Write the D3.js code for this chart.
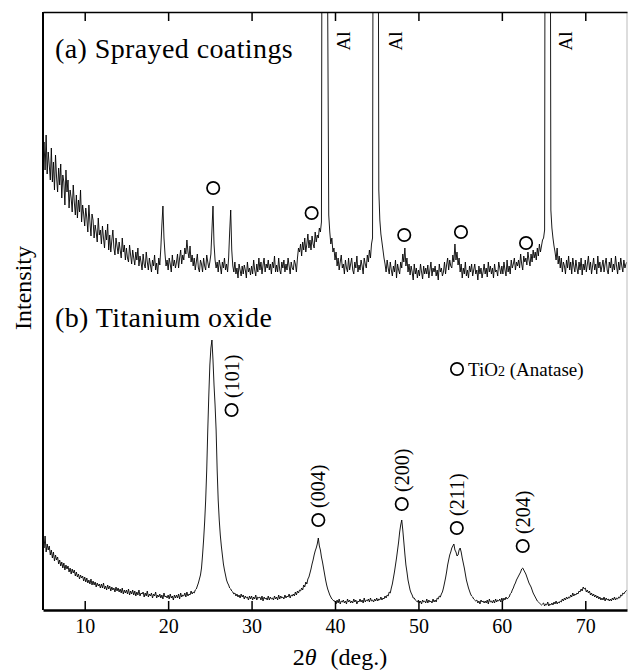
<!DOCTYPE html>
<html>
<head>
<meta charset="utf-8">
<script src="https://cdn.jsdelivr.net/npm/d3@7"></script>
<style>
  body { margin: 0; background: #fff; }
  text { font-family: "Liberation Serif", "Times New Roman", serif; fill: #000; }
</style>
</head>
<body>
<svg id="chart" width="628" height="672"></svg>
<script>
// scan grid of the diffractometer: 5 to 75 deg, 0.125 deg step
const scanStart = 5, scanStep = 0.125;

// (a) sprayed coatings, counts (one row per degree)
const coatingCounts = [
  452, 468, 440, 475, 436, 458, 445, 430,
  462, 428, 448, 420, 455, 433, 418, 442,
  425, 446, 412, 435, 428, 405, 440, 418,
  430, 402, 420, 412, 398, 425, 408, 395,
  415, 392, 410, 398, 420, 388, 405, 396,
  384, 402, 392, 378, 405, 388, 374, 396,
  390, 372, 385, 378, 368, 392, 375, 380,
  366, 384, 372, 362, 380, 370, 386, 360,
  375, 358, 370, 380, 362, 355, 372, 364,
  356, 368, 360, 352, 372, 358, 365, 350,
  362, 352, 348, 365, 355, 346, 360, 352,
  345, 358, 350, 362, 344, 354, 348, 340,
  356, 346, 342, 358, 348, 340, 352, 345,
  338, 350, 344, 355, 340, 347, 336, 352,
  345, 362, 385, 404, 372, 356, 344, 350,
  340, 352, 346, 338, 355, 344, 350, 342,
  348, 356, 342, 352, 360, 346, 355, 350,
  362, 356, 370, 358, 352, 364, 348, 355,
  344, 352, 340, 348, 356, 342, 338, 350,
  346, 338, 352, 344, 340, 355, 348, 342,
  348, 356, 380, 404, 366, 350, 342, 348,
  338, 350, 344, 336, 348, 342, 352, 340,
  346, 338, 352, 378, 400, 360, 344, 338,
  348, 336, 342, 332, 346, 340, 334, 344,
  336, 345, 340, 332, 348, 338, 342, 335,
  344, 336, 350, 340, 334, 346, 338, 352,
  340, 348, 336, 345, 352, 338, 346, 342,
  350, 340, 346, 336, 348, 342, 354, 338,
  345, 338, 352, 340, 336, 348, 342, 350,
  338, 346, 340, 352, 344, 336, 348, 342,
  340, 350, 346, 338, 352, 362, 358, 366,
  354, 368, 360, 372, 358, 366, 376, 362,
  370, 360, 374, 366, 362, 378, 368, 375,
  372, 382, 378, 388, 1000, 2500, 3000, 2500,
  1200, 600, 395, 378, 366, 372, 358, 362,
  350, 358, 344, 352, 340, 348, 355, 342,
  346, 336, 350, 342, 338, 352, 340, 346,
  352, 340, 336, 348, 342, 354, 338, 345,
  340, 350, 344, 336, 352, 346, 342, 355,
  348, 360, 352, 366, 372, 1000, 2500, 3000,
  2500, 1000, 420, 390, 376, 368, 360, 352,
  346, 338, 350, 342, 336, 348, 340, 334,
  344, 338, 350, 332, 346, 340, 336, 348,
  342, 356, 348, 362, 344, 352, 338, 346,
  335, 344, 338, 330, 346, 336, 342, 332,
  340, 334, 346, 338, 331, 344, 336, 342,
  336, 345, 332, 340, 348, 334, 342, 338,
  344, 334, 340, 330, 346, 338, 342, 334,
  338, 348, 336, 345, 352, 340, 350, 344,
  342, 355, 348, 366, 350, 358, 345, 352,
  338, 346, 332, 342, 336, 348, 334, 340,
  332, 344, 338, 346, 334, 340, 346, 336,
  340, 330, 344, 336, 342, 332, 338, 346,
  336, 342, 333, 348, 338, 344, 336, 342,
  332, 346, 338, 340, 334, 348, 342, 336,
  344, 336, 348, 340, 334, 350, 338, 344,
  336, 350, 342, 346, 352, 340, 348, 344,
  350, 342, 356, 346, 340, 354, 348, 352,
  345, 358, 350, 344, 356, 348, 360, 352,
  358, 350, 362, 354, 366, 358, 364, 370,
  372, 380, 1200, 2500, 3000, 2500, 1000, 400,
  382, 372, 364, 358, 350, 362, 346, 354,
  342, 352, 338, 348, 344, 336, 350, 342,
  354, 340, 348, 336, 352, 344, 338, 350,
  342, 336, 348, 340, 352, 335, 346, 340,
  350, 338, 346, 354, 340, 348, 336, 344,
  352, 340, 346, 336, 354, 342, 348, 338,
  344, 350, 338, 346, 352, 340, 336, 348,
  342, 352, 338, 346, 340, 354, 344, 336,
  348, 340, 352, 344, 338, 350, 342, 346,
  348
];

// (b) titanium oxide powder, counts (one row per degree)
const titaniaCounts = [
  70, 62, 74, 58, 66, 60, 64, 55,
  60, 52, 58, 49, 55, 50, 53, 46,
  50, 44, 48, 42, 47, 40, 45, 41,
  44, 38, 42, 36, 41, 37, 40, 34,
  38, 33, 36, 31, 35, 32, 34, 29,
  33, 28, 32, 27, 30, 26, 31, 25,
  29, 25, 28, 23, 27, 24, 26, 22,
  26, 22, 27, 21, 24, 20, 25, 21,
  24, 19, 23, 20, 22, 18, 23, 19,
  22, 18, 21, 17, 22, 16, 20, 17,
  20, 16, 21, 15, 19, 16, 20, 15,
  19, 14, 18, 15, 20, 14, 17, 16,
  18, 13, 17, 14, 19, 13, 16, 14,
  17, 12, 16, 14, 18, 12, 15, 13,
  16, 12, 15, 11, 17, 13, 14, 12,
  15, 11, 16, 12, 14, 10, 15, 12,
  15, 12, 16, 11, 17, 13, 15, 14,
  17, 13, 18, 14, 16, 15, 19, 16,
  18, 17, 20, 21, 24, 27, 31, 35,
  42, 55, 70, 88, 110, 140, 180, 215,
  245, 262, 270, 250, 225, 205, 180, 140,
  110, 90, 75, 64, 55, 46, 40, 35,
  30, 27, 25, 22, 21, 19, 18, 16,
  17, 14, 16, 13, 15, 12, 16, 13,
  15, 11, 14, 12, 13, 10, 14, 11,
  14, 10, 13, 11, 15, 10, 13, 12,
  13, 10, 14, 9, 13, 11, 12, 10,
  14, 10, 13, 11, 12, 10, 14, 11,
  13, 10, 15, 11, 14, 12, 13, 11,
  15, 12, 14, 13, 16, 12, 15, 14,
  16, 14, 18, 15, 19, 17, 20, 19,
  22, 20, 25, 23, 28, 26, 31, 33,
  37, 41, 46, 50, 55, 59, 62, 66,
  72, 64, 60, 53, 48, 42, 36, 30,
  25, 21, 18, 15, 13, 11, 10, 9,
  9, 6, 10, 7, 11, 6, 9, 8,
  10, 7, 9, 6, 11, 8, 10, 7,
  9, 7, 11, 8, 10, 6, 9, 8,
  11, 8, 10, 7, 12, 8, 10, 9,
  11, 8, 12, 9, 10, 8, 11, 9,
  12, 9, 11, 10, 13, 10, 12, 11,
  14, 12, 15, 14, 18, 17, 22, 26,
  32, 38, 45, 52, 60, 68, 78, 85,
  90, 80, 68, 56, 45, 38, 30, 25,
  20, 17, 15, 12, 12, 10, 9, 8,
  10, 7, 9, 6, 10, 8, 9, 7,
  11, 7, 10, 8, 9, 7, 11, 8,
  10, 8, 12, 11, 14, 13, 16, 18,
  22, 27, 32, 38, 45, 50, 55, 58,
  62, 64, 66, 60, 58, 54, 55, 60,
  62, 58, 52, 47, 42, 36, 30, 26,
  22, 19, 16, 14, 13, 11, 10, 9,
  10, 7, 9, 6, 10, 8, 9, 7,
  9, 7, 10, 6, 11, 8, 9, 7,
  10, 7, 11, 8, 10, 9, 11, 8,
  12, 9, 12, 10, 13, 11, 12, 13,
  16, 17, 20, 22, 25, 27, 30, 32,
  34, 36, 38, 41, 42, 40, 38, 36,
  33, 30, 27, 25, 23, 20, 17, 15,
  13, 11, 9, 8, 7, 6, 5, 6,
  7, 4, 6, 5, 8, 4, 6, 5,
  7, 5, 8, 6, 9, 6, 8, 7,
  9, 8, 11, 9, 12, 10, 13, 11,
  13, 12, 15, 13, 17, 14, 16, 15,
  17, 16, 19, 18, 21, 19, 23, 21,
  22, 18, 20, 17, 19, 15, 17, 14,
  16, 13, 15, 12, 14, 11, 13, 10,
  12, 10, 13, 9, 12, 10, 11, 9,
  11, 9, 12, 10, 13, 10, 12, 11,
  13, 12, 15, 14, 17, 16, 18, 19,
  20
];

// Al substrate peaks in (a)
const alPeaks = [38.5, 44.7, 65.1];

// anatase marks in (a): angle and height of the circle
const anataseA = [
  { tt: 25.4, v: 422 }, { tt: 37.2, v: 397 }, { tt: 48.3, v: 375 },
  { tt: 55.1, v: 378 }, { tt: 62.9, v: 367 }
];

// anatase reflections in (b)
const hklLabels = ["(101)", "(004)", "(200)", "(211)", "(204)"];
const hklAngles = [27.6, 38.0, 48.0, 54.6, 62.5];
const hklHeights = [200, 90, 106, 82, 64];

const xTicks = [10, 20, 30, 40, 50, 60, 70];

const W = 628, H = 672;
const m = { left: 43, right: 627, top: 12, bottom: 610 };
const serif = "'Liberation Serif', 'Times New Roman', serif";

const svg = d3.select("#chart").attr("font-family", serif);
svg.append("rect").attr("width", W).attr("height", H).attr("fill", "#fff");

const x = d3.scaleLinear().domain([5, 75]).range([m.left, m.right]);
const y = d3.scaleLinear().domain([0, 598]).range([m.bottom, m.top]);

svg.append("clipPath").attr("id", "plotclip")
  .append("rect")
  .attr("x", m.left).attr("y", m.top)
  .attr("width", m.right - m.left).attr("height", m.bottom - m.top);

const toPoints = arr => arr.map((v, i) => [scanStart + i * scanStep, v]);

const line = d3.line().x(d => x(d[0])).y(d => y(d[1]));

const plot = svg.append("g").attr("clip-path", "url(#plotclip)");

[coatingCounts, titaniaCounts].forEach(function (counts) {
  plot.append("path")
    .datum(toPoints(counts))
    .attr("d", line)
    .attr("fill", "none")
    .attr("stroke", "#000")
    .attr("stroke-width", 0.9);
});

// frame
svg.append("line").attr("x1", m.left).attr("x2", m.left).attr("y1", m.top).attr("y2", m.bottom)
  .attr("stroke", "#000").attr("stroke-width", 2);
svg.append("line").attr("x1", m.right).attr("x2", m.right).attr("y1", m.top).attr("y2", m.bottom)
  .attr("stroke", "#bbb").attr("stroke-width", 1);

// bottom axis
const xAxis = svg.append("g")
  .attr("transform", `translate(0,${m.bottom})`)
  .call(d3.axisBottom(x).tickValues(xTicks).tickSizeInner(-9).tickSizeOuter(0).tickPadding(9));
xAxis.attr("font-family", serif);
xAxis.select(".domain").attr("stroke-width", 2.5);
xAxis.selectAll(".tick line").attr("stroke-width", 1.5);
xAxis.selectAll(".tick text")
  .style("font-family", serif)
  .style("font-size", "20px");

// top axis
const topAxis = svg.append("g")
  .attr("transform", `translate(0,${m.top})`)
  .call(d3.axisTop(x).tickValues(xTicks).tickSizeInner(-9).tickSizeOuter(0).tickFormat(""));
topAxis.select(".domain").attr("stroke-width", 1.5);
topAxis.selectAll(".tick line").attr("stroke-width", 1.5);

// axis titles
const xTitle = svg.append("text")
  .attr("x", 340).attr("y", 665)
  .attr("text-anchor", "middle")
  .style("font-size", "24px");
xTitle.append("tspan").text("2");
xTitle.append("tspan").style("font-style", "italic").text("θ");
xTitle.append("tspan").attr("dx", 14).text("(deg.)");

svg.append("text")
  .attr("transform", "translate(31,288) rotate(-90)")
  .attr("text-anchor", "middle")
  .style("font-size", "24px")
  .text("Intensity");

// panel titles
svg.append("text").attr("x", 55).attr("y", 58)
  .style("font-size", "28px").style("letter-spacing", "0.4px")
  .text("(a) Sprayed coatings");
svg.append("text").attr("x", 55).attr("y", 327)
  .style("font-size", "28px").style("letter-spacing", "0.4px")
  .text("(b) Titanium oxide");

// Al labels
svg.selectAll(".al").data(alPeaks).enter().append("text")
  .attr("class", "al")
  .attr("transform", d => `translate(${x(d) + 28},41) rotate(-90)`)
  .attr("text-anchor", "middle")
  .style("font-size", "19px")
  .text("Al");

// anatase circles in (a)
svg.selectAll(".mkA").data(anataseA).enter().append("circle")
  .attr("class", "mkA")
  .attr("cx", d => x(d.tt)).attr("cy", d => y(d.v))
  .attr("r", 6.2)
  .attr("fill", "none").attr("stroke", "#000").attr("stroke-width", 1.7);

// anatase reflections in (b)
const hkl = svg.selectAll(".hkl").data(hklLabels).enter().append("g").attr("class", "hkl")
  .attr("transform", (d, i) => `translate(${x(hklAngles[i])},${y(hklHeights[i])})`);
hkl.append("circle").attr("r", 6.2)
  .attr("fill", "none").attr("stroke", "#000").attr("stroke-width", 1.7);
hkl.append("text")
  .attr("transform", "translate(7,-12) rotate(-90)")
  .style("font-size", "20px")
  .text(d => d);

// legend
const leg = svg.append("g").attr("transform", "translate(457,369)");
leg.append("circle").attr("r", 6.2)
  .attr("fill", "none").attr("stroke", "#000").attr("stroke-width", 1.7);
const legText = leg.append("text").attr("x", 11).attr("y", 7).style("font-size", "19px");
legText.append("tspan").text("TiO");
legText.append("tspan").style("font-size", "14px").text("2");
legText.append("tspan").text(" (Anatase)");
</script>
</body>
</html>
